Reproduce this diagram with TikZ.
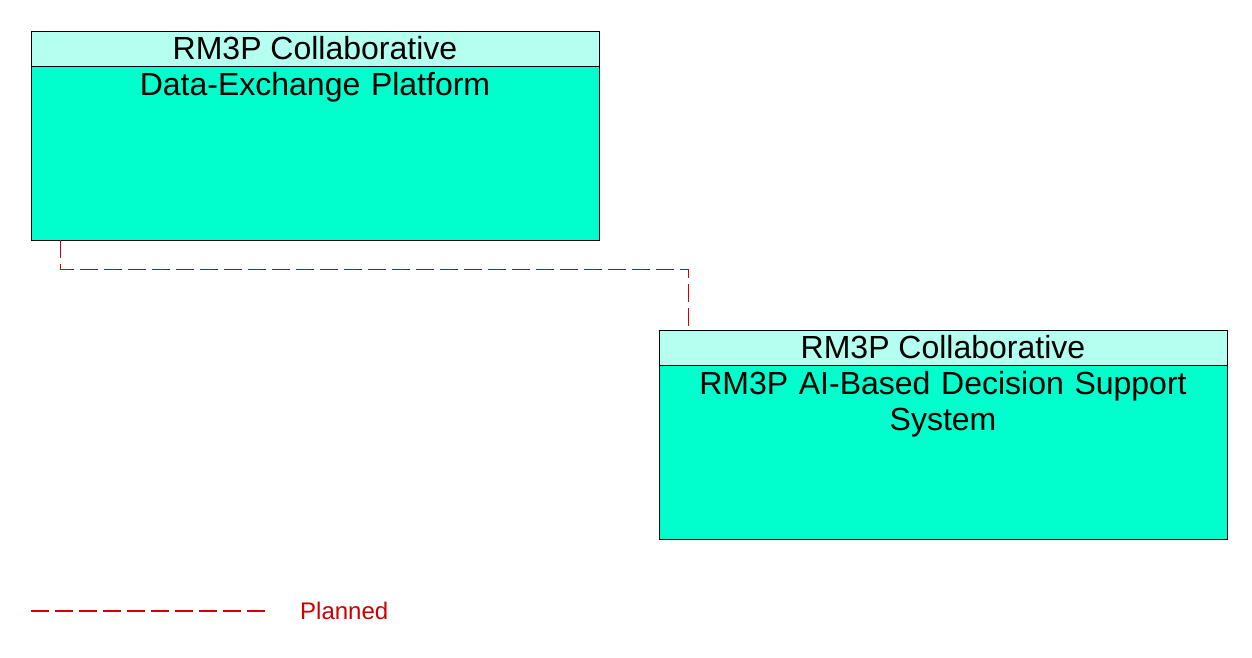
\documentclass[tikz,border=0pt]{standalone}
\usepackage{fontspec}
\setmainfont{Liberation Sans}
\usepackage{tikz}
\usetikzlibrary{positioning,calc}
\definecolor{elhead}{HTML}{B4FFF0}
\definecolor{elbody}{HTML}{00FFCC}
\definecolor{plnred}{HTML}{CC0000}
\newcommand{\bigtxt}{\fontsize{32}{36}\selectfont}

\begin{document}
\begin{tikzpicture}[x=1pt,y=1pt,font=\bigtxt,
  hd/.style={draw=black,fill=elhead,minimum width=568pt,minimum height=35pt,inner sep=0pt,line width=0.9pt},
  bd/.style={draw=black,fill=elbody,minimum width=568pt,minimum height=174pt,inner sep=0pt,line width=0.9pt},
  txt/.style={align=center,text width=540pt,inner sep=0pt},
  planned/.style={draw=plnred,line width=1.1pt,dash pattern=on 18pt off 6pt}]
  \useasboundingbox (0,0) rectangle (1252,658);
  % upper element
  \node[bd] (dxBody) at (315,505) {};
  \node[hd] (dxHead) at (315,609.5) {RM3P Collaborative};
  \node[txt,anchor=north] (dxTxt) at ($(dxBody.north)+(0,-7)$) {Data-Exchange Platform};
  % lower element
  \node[bd] (dsBody) at (943,206) {};
  \node[hd] (dsHead) at (943,310.5) {RM3P Collaborative};
  \node[txt,anchor=north] (dsTxt) at ($(dsBody.north)+(0,-7)$) {RM3P AI-Based Decision Support\\System};
  % flow
  \draw[planned] ([xshift=30pt]dxBody.south west) -- ++(0,-29) -| ([xshift=30pt]dsHead.north west);
  % legend
  \coordinate (legA) at (31,47);
  \coordinate (legB) at (265,47);
  \draw[planned] (legA) -- (legB);
  \node[anchor=west,inner sep=0pt,text=plnred,font=\fontsize{24}{28}\selectfont] (legTxt) at (300,47) {Planned};
\end{tikzpicture}
\end{document}
